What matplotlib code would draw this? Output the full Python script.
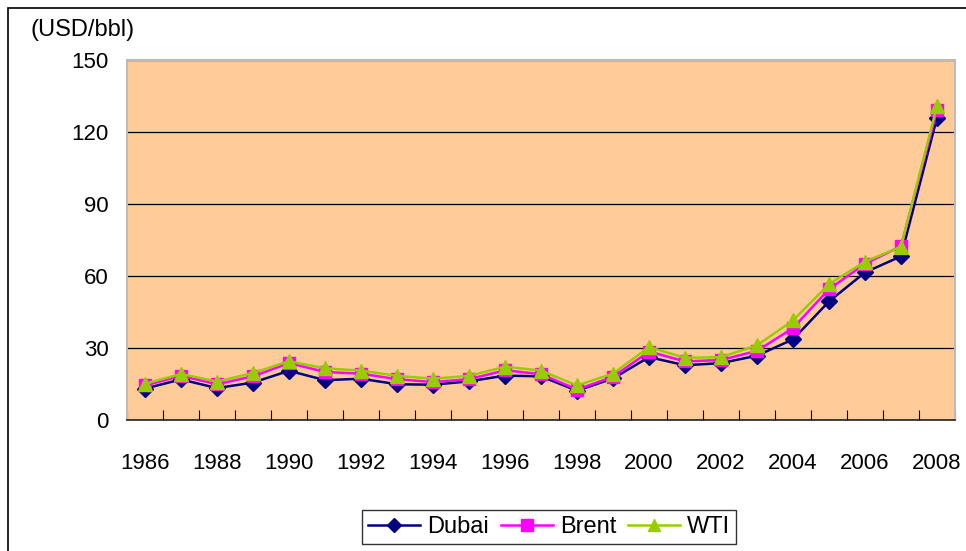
import matplotlib.pyplot as plt
from matplotlib.patches import Rectangle

plt.rcParams['font.family'] = ['Liberation Sans', 'DejaVu Sans']

years = list(range(1986, 2009))
dubai = [13.1, 16.9, 13.3, 15.6, 20.5, 16.6, 17.2, 14.9, 14.7, 16.1, 18.5, 18.2, 12.2,
         17.3, 26.2, 22.8, 23.7, 26.8, 33.6, 49.4, 61.5, 68.2, 126.0]
brent = [14.4, 18.4, 14.9, 18.2, 23.7, 20.0, 19.3, 17.0, 15.8, 17.0, 20.7, 19.1, 12.7,
         18.0, 28.5, 24.4, 25.0, 28.8, 38.3, 54.5, 65.1, 72.4, 129.0]
wti = [15.1, 19.2, 16.0, 19.6, 24.5, 21.5, 20.6, 18.4, 17.2, 18.4, 22.2, 20.6, 14.4,
       19.3, 30.4, 25.9, 26.2, 31.1, 41.5, 56.6, 66.0, 72.2, 131.0]
yticks = [0, 30, 60, 90, 120, 150]

fig = plt.figure(figsize=(9.66, 5.51), dpi=100)
fig.patches.append(Rectangle((8 / 966, -0.1), 1.1, 1 - 8 / 551 + 0.1, transform=fig.transFigure,
                             fill=False, edgecolor='black', lw=1.2))

ax = fig.add_axes([127 / 966, 1 - 420 / 551, 828 / 966, 360 / 551])
ax.set_facecolor('#FFCC99')

x = list(range(len(years)))
ax.plot(x, dubai, color='#000080', marker='D', markersize=8, lw=1.8, label='Dubai', zorder=3)
ax.plot(x, brent, color='#FF00FF', marker='s', markersize=9, lw=1.8, label='Brent', zorder=4)
ax.plot(x, wti, color='#99CC00', marker='^', markersize=10, lw=1.8, label='WTI', zorder=5)

ax.set_xlim(-0.5, len(years) - 0.5)
ax.set_ylim(0, 150)
ax.set_yticks(yticks)
ax.yaxis.grid(True, color='black', lw=0.9)
ax.set_axisbelow(True)

# category axis: ticks on boundaries, labels every other year
ax.set_xticks([i - 0.5 for i in range(len(years) + 1)])
ax.set_xticklabels([])
ax.set_xticks(x[::2], minor=True)
ax.set_xticklabels([str(y) for y in years[::2]], minor=True)
ax.tick_params(axis='x', which='major', direction='in', length=7, color='black')
ax.tick_params(axis='x', which='minor', length=0, pad=24, labelsize=16)
ax.tick_params(axis='y', length=0, pad=13, labelsize=16)

for s in ['top', 'right', 'left']:
    ax.spines[s].set_color('#BBBBBB')
    ax.spines[s].set_linewidth(1.5)
ax.spines['bottom'].set_color('#222222')
ax.spines['bottom'].set_linewidth(1.2)

fig.text(30 / 966, 1 - 30 / 551, '(USD/bbl)', fontsize=17, va='center', ha='left')

leg = fig.legend(loc='center', bbox_to_anchor=(549 / 966, 1 - 527 / 551), ncol=3,
                 fontsize=17, frameon=True, fancybox=False, edgecolor='black',
                 handlelength=2.2, columnspacing=0.5, handletextpad=0.3, borderpad=0.25,
                 markerscale=0.9)
leg.get_frame().set_linewidth(1.0)

fig.savefig('out.png', dpi=100)
